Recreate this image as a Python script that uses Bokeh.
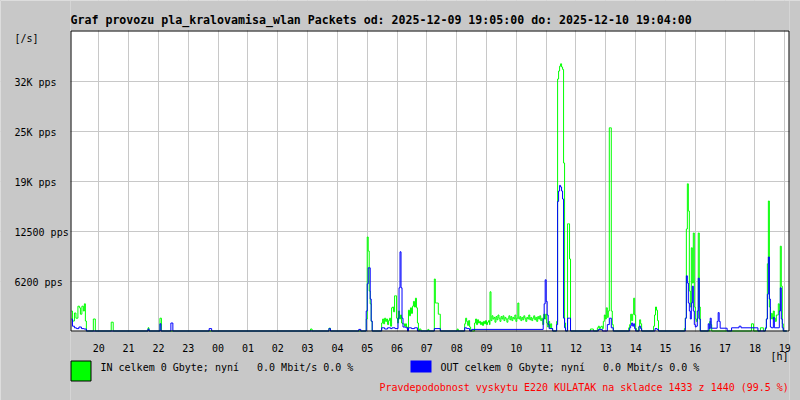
from bokeh.plotting import figure
from bokeh.models import FixedTicker, Range1d, Grid
from bokeh.core.properties import value
from bokeh.embed import file_html
from bokeh.resources import INLINE

NB3 = "\u00a0\u00a0\u00a0"
TITLE = "Graf provozu pla_kralovamisa_wlan Packets od: 2025-12-09 19:05:00 do: 2025-12-10 19:04:00"
IN_TEXT = "IN celkem 0 Gbyte; nyní" + NB3 + "0.0 Mbit/s 0.0 %"
OUT_TEXT = "OUT celkem 0 Gbyte; nyní" + NB3 + "0.0 Mbit/s 0.0 %"
NOTE_TEXT = "Pravdepodobnost vyskytu E220 KULATAK na skladce 1433 z 1440 (99.5 %)"
Y_UNIT = "[/s]"
X_UNIT = "[h]"

# x ticks: minutes from midnight of 2025-12-09
HOUR_TICKS = [1200, 1260, 1320, 1380, 1440, 1500, 1560, 1620, 1680, 1740, 1800, 1860,
              1920, 1980, 2040, 2100, 2160, 2220, 2280, 2340, 2400, 2460, 2520, 2580]
HOUR_LABELS = ["20", "21", "22", "23", "00", "01", "02", "03", "04", "05", "06", "07",
               "08", "09", "10", "11", "12", "13", "14", "15", "16", "17", "18", "19"]
Y_TICKS = [6250, 12500, 18750, 25000, 31250]
Y_LABELS = ["6200 pps", "12500 pps", "19K pps", "25K pps", "32K pps"]
Y_MAX = 37500

# IN (green) packets/s, minutes from midnight
IN_MIN = [1145, 1147, 1151, 1154, 1158, 1161, 1163, 1166, 1169, 1171, 1173, 1175,
          1189, 1193, 1225, 1229, 1299, 1301, 1323, 1326, 1626, 1629, 1663, 1666,
          1738, 1740, 1742, 1744, 1746, 1748, 1750,
          1769, 1771, 1773, 1775, 1777, 1779, 1781, 1783, 1785, 1787,
          1789, 1791, 1793, 1795, 1797, 1799,
          1801, 1803, 1805, 1807, 1809, 1811, 1813, 1815, 1817, 1819, 1821,
          1823, 1825, 1827, 1829, 1831, 1833, 1835, 1837, 1839, 1841, 1843,
          1845, 1848, 1862, 1864,
          1875, 1877, 1879, 1881, 1883, 1885, 1887, 1921, 1923,
          1936, 1938, 1940, 1942, 1944, 1946, 1948,
          1956, 1958, 1960, 1962, 1964, 1966, 1968, 1970, 1972, 1974, 1976, 1978, 1980,
          1982, 1984, 1986, 1987, 1989, 1991, 1993, 1995, 1997, 1999, 2001, 2003, 2005,
          2007, 2009, 2011, 2013, 2015, 2017, 2019, 2021, 2023, 2025, 2027, 2029, 2031,
          2033, 2035, 2037, 2039, 2041, 2043, 2045, 2047, 2049, 2051, 2053, 2055, 2057,
          2059, 2061, 2063, 2065, 2067, 2069, 2071, 2073, 2075, 2077, 2079, 2081, 2083,
          2085, 2087, 2089, 2091, 2093,
          2095, 2097, 2099, 2101, 2103, 2105, 2107, 2109, 2111, 2113,
          2121, 2123, 2125, 2127, 2129, 2131, 2133, 2135, 2137, 2139,
          2143, 2145, 2147, 2149, 2189, 2195,
          2203, 2205, 2207, 2209, 2211, 2213,
          2215, 2217, 2219, 2221, 2223, 2225, 2227, 2229, 2231, 2233, 2235,
          2266, 2268, 2270, 2272, 2274, 2276, 2278, 2280, 2282,
          2286, 2288, 2290, 2292, 2316, 2318, 2320, 2322, 2324, 2326,
          2378, 2380, 2382, 2384, 2386, 2388, 2390, 2392, 2394, 2396, 2398, 2400, 2402,
          2404, 2406, 2408, 2410, 2429, 2431, 2433, 2513, 2517, 2531, 2537,
          2541, 2543, 2545, 2547, 2549, 2551, 2553, 2555, 2557, 2559, 2561, 2563, 2565,
          2567, 2569, 2571, 2573, 2575, 2577, 2584]
IN_PPS = [2500, 1250, 2250, 1600, 3100, 2900, 2100, 3100, 2500, 3400, 1250, 0,
          1500, 0, 1100, 0, 400, 0, 1600, 0, 250, 0, 350, 0,
          1500, 11750, 10000, 5000, 3400, 1200, 0,
          1000, 1500, 900, 1600, 1200, 1500, 800, 1300, 1600, 600,
          2900, 3000, 2400, 4400, 4400, 1600,
          1000, 2500, 1500, 2000, 1000, 900, 900, 600, 900, 500, 0,
          2600, 1900, 2900, 2200, 3100, 3700, 3000, 4100, 2900, 1000, 0,
          250, 0, 200, 0,
          6500, 3500, 3500, 3500, 2100, 2100, 0, 250, 0,
          900, 1600, 1200, 700, 1300, 500, 0,
          1000, 1500, 800, 1400, 1000, 1200, 800, 1100, 700, 1200, 900, 1300, 800,
          1100, 1300, 800, 4900, 1300, 1900, 1500, 1700, 1100, 1800, 1400, 2000, 1600,
          1200, 1800, 1500, 1900, 1300, 1700, 1500, 1100, 1600, 1900, 1400, 1800, 1300,
          1700, 1500, 2000, 1200, 1600, 3500, 1500, 1800, 1300, 1700, 1400, 1900, 1600,
          1200, 1700, 1500, 2000, 1400, 1700, 1300, 1600, 1900, 1400, 1700, 1200, 1800,
          1500, 1900, 1300, 1600, 800,
          2100, 1500, 2100, 1000, 500, 1200, 400, 900, 300, 0,
          1200, 31500, 32500, 33100, 33400, 33000, 32700, 21000, 1000, 0,
          13400, 13400, 9000, 0, 250, 0,
          400, 600, 300, 500, 600, 300,
          1200, 2000, 1500, 2900, 1700, 2500, 25400, 25400, 2500, 800, 0,
          400, 800, 2100, 1300, 2100, 4100, 2000, 300, 0,
          500, 1400, 900, 0, 600, 2000, 3000, 2600, 1300, 0,
          300, 1600, 12750, 18400, 15000, 5000, 3000, 10400, 6000, 12250, 3000, 1500, 1200,
          1600, 12250, 3000, 0, 1200, 800, 0, 900, 0, 400, 0,
          300, 1500, 8400, 16250, 3000, 1500, 2200, 1500, 2500, 1600, 1200, 2000, 2000,
          3400, 2500, 10600, 5600, 900, 0, 0]

# OUT (blue) packets/s, minutes from midnight
OUT_MIN = [1145, 1147, 1151, 1155, 1160, 1165, 1170, 1175,
           1299, 1301, 1323, 1325, 1345, 1349, 1422, 1427, 1663, 1666, 1723, 1727,
           1738, 1740, 1742, 1744, 1746, 1748, 1750,
           1769, 1775, 1781, 1787, 1790, 1796,
           1802, 1804, 1806, 1808, 1810, 1812, 1814, 1818, 1821,
           1823, 1829, 1835, 1841, 1875, 1887, 1936, 1940, 1946,
           1950, 2094, 2096, 2098, 2100, 2102, 2104, 2106, 2113,
           2121, 2123, 2125, 2127, 2129, 2131, 2133, 2135, 2137, 2139, 2143, 2147, 2149,
           2205, 2213, 2223, 2227, 2231, 2235,
           2268, 2270, 2272, 2274, 2276, 2278, 2280, 2287, 2290, 2292, 2319, 2323, 2326,
           2380, 2382, 2384, 2386, 2388, 2390, 2392, 2394, 2396, 2398, 2400, 2402, 2404,
           2406, 2408, 2410,
           2426, 2428, 2430, 2432, 2444, 2446, 2448, 2450, 2464,
           2473, 2488, 2492, 2526,
           2541, 2543, 2545, 2547, 2549, 2551, 2553, 2557, 2559, 2569, 2571, 2573, 2575,
           2577, 2584]
OUT_PPS = [1500, 600, 400, 300, 500, 300, 250, 0,
           250, 0, 900, 0, 1000, 0, 300, 0, 300, 0, 200, 0,
           2500, 5900, 7900, 7900, 4000, 1250, 0,
           400, 250, 400, 300, 400, 300,
           1600, 5400, 9900, 5400, 1600, 500, 500, 400, 0,
           400, 300, 400, 0, 300, 0, 400, 300, 0,
           200, 1500, 3400, 6400, 3700, 2000, 800, 300, 0,
           800, 16200, 17500, 18200, 18000, 17500, 16500, 1600, 400, 0, 1600, 1600, 0,
           200, 0, 800, 1600, 400, 0,
           400, 700, 1000, 600, 900, 300, 0, 600, 300, 0, 300, 200, 0,
           1600, 6900, 6000, 3500, 2500, 1500, 3500, 5600, 2500, 800, 500, 600, 2500,
           6600, 1500, 0,
           900, 300, 1600, 350, 1200, 2300, 1200, 350, 0,
           400, 600, 400, 0,
           400, 1500, 4600, 9250, 4000, 500, 400, 1700, 400, 2500, 5400, 1500, 400,
           0, 0]

# ---- layout (canvas pixels) ----
W, H = 800, 400
FL, FT, FR, FB = 70, 30, 789, 330      # chart area on the canvas
MPP = 2.01174                          # minutes per pixel
X0 = 1143.07                           # minute at the left edge of the chart
PPP = Y_MAX / (FB - FT)                # packets/s per pixel
BG = "#c8c8c8"
FONT = "DejaVu Sans Mono"

p = figure(width=W, height=H,
           x_range=Range1d(X0 - FL * MPP, X0 + (W - FL) * MPP),
           y_range=Range1d(-(H - FB - 0.5) * PPP, (FB + 0.5) * PPP),
           output_backend="svg", toolbar_location=None, title=None,
           x_axis_location=None, y_axis_location=None, min_border=0,
           min_border_left=0, min_border_right=0, min_border_top=0, min_border_bottom=0,
           background_fill_color="white", border_fill_color=BG, outline_line_color=None)
# canvas-pixel ranges for the frame decorations and texts
p.extra_x_ranges = {"cx": Range1d(0, W)}
p.extra_y_ranges = {"cy": Range1d(H, 0)}

p.center = [c for c in p.center if not isinstance(c, Grid)]
p.add_layout(Grid(dimension=0, ticker=FixedTicker(ticks=HOUR_TICKS),
                  grid_line_color=BG, grid_line_width=1))
p.add_layout(Grid(dimension=1, ticker=FixedTicker(ticks=Y_TICKS),
                  grid_line_color=BG, grid_line_width=1))

# grey surround of the chart area
p.quad(left=[0, FR, FL, FL], right=[FL, W, FR, FR], top=[0, 0, 0, FB + 1],
       bottom=[H, H, FT, H], x_range_name="cx", y_range_name="cy",
       fill_color=BG, line_color=None)

# series
p.step(x=IN_MIN, y=IN_PPS, mode="after", line_color="#00ff00", line_width=1)
p.step(x=OUT_MIN, y=OUT_PPS, mode="after", line_color="#0000ff", line_width=1)

# chart border
p.quad(left=[FL + 0.5], right=[FR - 0.5], top=[FT + 0.5], bottom=[FB + 0.5],
       x_range_name="cx", y_range_name="cy", fill_color=None, line_color="black",
       line_width=1)

# legend swatches
p.quad(left=[FL + 0.5], right=[FL + 20.5], top=[360.5], bottom=[380.5],
       x_range_name="cx", y_range_name="cy", fill_color="#00ff00", line_color="black")
p.quad(left=[410], right=[431], top=[360], bottom=[372],
       x_range_name="cx", y_range_name="cy", fill_color="#0000ff", line_color=None)


def txt(xs, ys, texts, size="10px", color="black", bold=False, align="left",
        xr="cx", yr="cy", y_offset=0):
    p.text(x=xs, y=ys, text=texts, x_range_name=xr, y_range_name=yr,
           text_font=value(FONT), text_font_size=value(size), text_color=color,
           text_font_style="bold" if bold else "normal", text_align=align,
           text_baseline="alphabetic", y_offset=y_offset)


txt([FL], [19], [TITLE], size="11.6px", bold=True)
txt([14], [37.5], [Y_UNIT])
txt([14] * len(Y_TICKS), Y_TICKS, Y_LABELS, yr="default", y_offset=1.5)
txt(HOUR_TICKS, [347.5] * len(HOUR_TICKS), HOUR_LABELS, align="center", xr="default")
txt([770], [355.5], [X_UNIT])
txt([100], [367], [IN_TEXT])
txt([440], [367], [OUT_TEXT])
txt([379], [387], [NOTE_TEXT], color="#ff0000")

TEMPLATE = """
{% block postamble %}
<style>html, body { background-color: #c8c8c8; margin: 0; padding: 0; overflow: hidden; }</style>
{% endblock %}
"""

open("out.html", "w").write(file_html(p, INLINE, template=TEMPLATE))
